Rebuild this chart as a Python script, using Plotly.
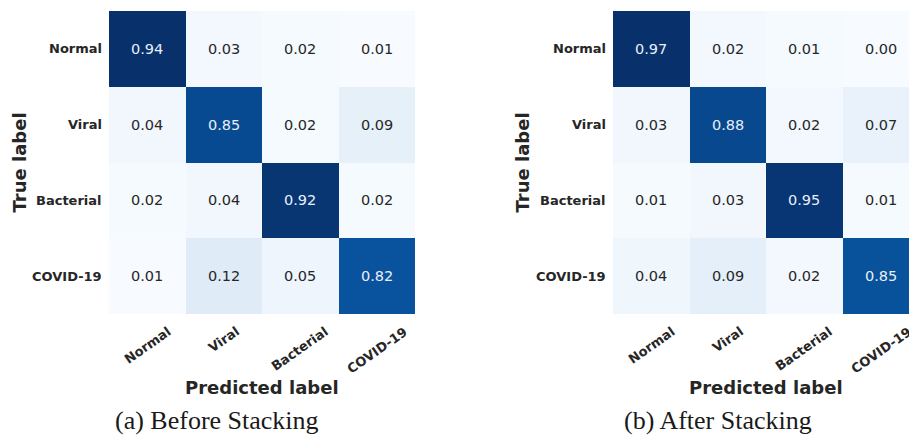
import plotly.graph_objects as go

# Confusion matrices (rows = true class, columns = predicted class)
classes = ["Normal", "Viral", "Bacterial", "COVID-19"]
cm_before = [
    [0.94, 0.03, 0.02, 0.01],
    [0.04, 0.85, 0.02, 0.09],
    [0.02, 0.04, 0.92, 0.02],
    [0.01, 0.12, 0.05, 0.82],
]
cm_after = [
    [0.97, 0.02, 0.01, 0.00],
    [0.03, 0.88, 0.02, 0.07],
    [0.01, 0.03, 0.95, 0.01],
    [0.04, 0.09, 0.02, 0.85],
]
captions = ["(a) Before Stacking", "(b) After Stacking"]

W, H = 909, 436
blues = [
    [0.0, "#f7fbff"], [0.125, "#deebf7"], [0.25, "#c6dbef"], [0.375, "#9ecae1"],
    [0.5, "#6baed6"], [0.625, "#4292c6"], [0.75, "#2171b5"], [0.875, "#08519c"],
    [1.0, "#08306b"],
]

def fx(p):
    return p / W

def fy(p):
    return 1 - p / H

cell = 76.5
top, bottom = 11, 314
panels = [
    dict(x0=109, cap_x=217, ylab_x=19),
    dict(x0=613, cap_x=718, ylab_x=522),
]

fig = go.Figure()
annotations = []
idx = list(range(len(classes)))

for k, (cm, cap, pan) in enumerate(zip([cm_before, cm_after], captions, panels)):
    xa = "x" if k == 0 else "x2"
    ya = "y" if k == 0 else "y2"
    flat = [v for row in cm for v in row]
    zmin, zmax = min(flat), max(flat)
    fig.add_trace(go.Heatmap(
        z=cm, x=idx, y=idx, colorscale=blues, zmin=zmin, zmax=zmax,
        showscale=False, xaxis=xa, yaxis=ya, hoverinfo="skip",
    ))
    x0 = pan["x0"]
    x1 = x0 + cell * len(classes)
    dom_end = min(x1, W)
    visible_cells = (dom_end - x0) / cell
    axis_kw = dict(showgrid=False, zeroline=False, showticklabels=False, ticks="",
                   showline=False)
    fig.update_layout(**{
        ("xaxis" if k == 0 else "xaxis2"): dict(
            domain=[fx(x0), fx(dom_end)], range=[-0.5, -0.5 + visible_cells],
            anchor=ya, **axis_kw),
        ("yaxis" if k == 0 else "yaxis2"): dict(
            domain=[fy(bottom), fy(top)], range=[3.5, -0.5], anchor=xa, **axis_kw),
    })

    # cell values
    for i, row in enumerate(cm):
        for j, v in enumerate(row):
            norm = (v - zmin) / (zmax - zmin)
            annotations.append(dict(
                x=j, y=i, xref=xa, yref=ya, text=f"{v:.2f}", showarrow=False,
                font=dict(family="DejaVu Sans", size=14.5,
                          color="#e9eff8" if norm > 0.5 else "#262626"),
            ))

    # row labels
    for i, name in enumerate(classes):
        annotations.append(dict(
            x=fx(x0 - 5), y=i, xref="paper", yref=ya, text=f"<b>{name}</b>",
            showarrow=False, xanchor="right", yanchor="middle",
            font=dict(family="DejaVu Sans", size=13, color="#262626"),
        ))
    # column labels, rotated
    for j, name in enumerate(classes):
        annotations.append(dict(
            x=j, y=fy(321), xref=xa, yref="paper", text=f"<b>{name}</b>",
            showarrow=False, xanchor="center", yanchor="top", textangle=-35,
            font=dict(family="DejaVu Sans", size=13, color="#262626"),
        ))
    # axis titles
    annotations.append(dict(
        x=fx((x0 + x1) / 2), y=fy(387), xref="paper", yref="paper",
        text="<b>Predicted label</b>", showarrow=False,
        xanchor="center", yanchor="middle",
        font=dict(family="DejaVu Sans", size=18, color="#262626"),
    ))
    annotations.append(dict(
        x=fx(pan["ylab_x"]), y=fy((top + bottom) / 2), xref="paper", yref="paper",
        text="<b>True label</b>", showarrow=False, textangle=-90,
        xanchor="center", yanchor="middle",
        font=dict(family="DejaVu Sans", size=18, color="#262626"),
    ))
    # caption
    annotations.append(dict(
        x=fx(pan["cap_x"]), y=fy(420), xref="paper", yref="paper",
        text=cap, showarrow=False, xanchor="center", yanchor="middle",
        borderpad=0,
        font=dict(family="Liberation Serif", size=26, color="#1a1a1a"),
    ))

fig.update_layout(
    width=W, height=H, margin=dict(l=0, r=0, t=0, b=0),
    paper_bgcolor="white", plot_bgcolor="white",
    annotations=annotations, showlegend=False,
)

fig.write_html("out.html")
